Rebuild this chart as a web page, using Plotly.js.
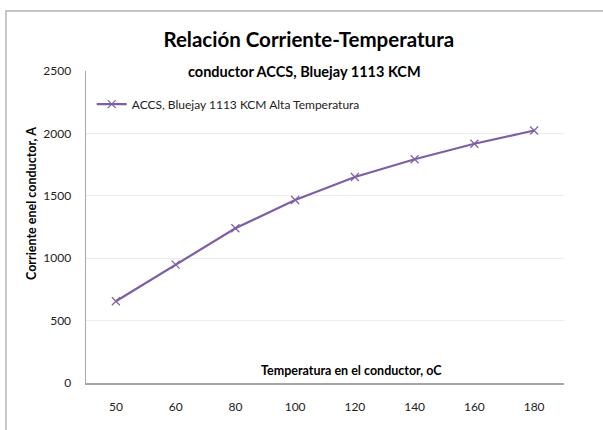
<!DOCTYPE html>
<html>
<head>
<meta charset="utf-8">
<script src="https://cdn.plot.ly/plotly-3.0.1.min.js"></script>
<style>html,body{margin:0;padding:0;background:#fff;}#chart{width:603px;height:430px;}</style>
</head>
<body>
<div id="chart"></div>
<script>
const categories = ['50', '60', '80', '100', '120', '140', '160', '180'];
const corriente = [655, 948, 1240, 1466, 1651, 1793, 1917, 2023];
const seriesName = 'ACCS, Bluejay 1113 KCM Alta Temperatura';
const yTicks = [0, 500, 1000, 1500, 2000, 2500];

const FONT = 'Lato, "Open Sans", sans-serif';
const purple = '#7E5FA6';

const trace = {
  x: categories,
  y: corriente,
  type: 'scatter',
  mode: 'lines+markers',
  name: seriesName,
  line: {color: purple, width: 2.2},
  marker: {symbol: 'x-thin', size: 8, line: {color: purple, width: 1.2}, color: purple}
};

const layout = {
  width: 603, height: 430,
  margin: {l: 86, r: 39, t: 71, b: 47},
  paper_bgcolor: '#fff', plot_bgcolor: '#fff',
  font: {family: FONT, size: 11, color: '#222'},
  title: {
    text: '<b>Relación Corriente-Temperatura</b>',
    font: {family: FONT, size: 20.5, color: '#000'},
    x: 0.512, xanchor: 'center', xref: 'container',
    y: 1 - 40/430, yanchor: 'middle', yref: 'container'
  },
  showlegend: true,
  legend: {
    x: 0.012, y: 0.894, xanchor: 'left', yanchor: 'middle',
    bgcolor: 'rgba(0,0,0,0)', font: {family: FONT, size: 12, color: '#222'}
  },
  xaxis: {
    type: 'category',
    range: [-0.5, 7.5],
    showgrid: false,
    showline: true, linecolor: '#a6a6a6', linewidth: 1.5,
    ticks: 'outside', ticklen: 12, tickcolor: 'rgba(0,0,0,0)',
    tickfont: {family: FONT, size: 12, color: '#222'},
    zeroline: false, fixedrange: true
  },
  yaxis: {
    range: [0, 2500],
    tickvals: yTicks,
    ticktext: yTicks.map(String),
    showgrid: true, gridcolor: '#ececec', gridwidth: 1,
    showline: true, linecolor: '#a6a6a6', linewidth: 1.5,
    ticks: 'outside', ticklen: 11, tickcolor: 'rgba(0,0,0,0)',
    tickfont: {family: FONT, size: 12, color: '#222'},
    zeroline: false, fixedrange: true
  },
  annotations: [
    {
      text: '<b>conductor ACCS, Bluejay 1113 KCM</b>',
      xref: 'paper', yref: 'paper', x: 0.458, y: 1.0,
      xanchor: 'center', yanchor: 'middle', showarrow: false,
      font: {family: FONT, size: 14.5, color: '#000'}
    },
    {
      text: '<b>Corriente enel conductor, A</b>',
      xref: 'paper', yref: 'paper', x: -0.113, y: 0.577,
      xanchor: 'center', yanchor: 'middle', showarrow: false, textangle: -90,
      font: {family: FONT, size: 12.5, color: '#000'}
    },
    {
      text: '<b>Temperatura en el conductor, oC</b>',
      xref: 'paper', yref: 'paper', x: 0.556, y: 0.0385,
      xanchor: 'center', yanchor: 'middle', showarrow: false,
      font: {family: FONT, size: 12.5, color: '#000'}
    }
  ],
  shapes: [
    {
      type: 'path', xref: 'paper', yref: 'paper',
      path: 'M -0.1674 -0.2 L -0.1674 1.1923 L 1.1 1.1923',
      line: {color: '#b4b4b4', width: 1.5}
    }
  ]
};

Plotly.newPlot('chart', [trace], layout, {displayModeBar: false, staticPlot: true});
</script>
</body>
</html>
